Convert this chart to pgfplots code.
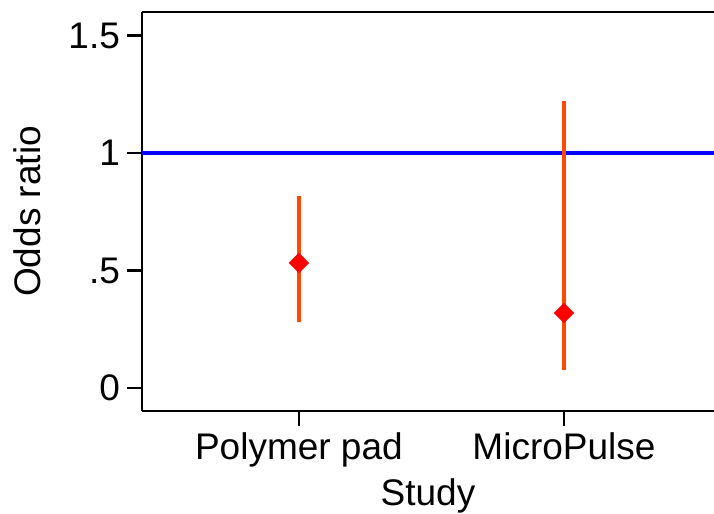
\documentclass[border=0pt]{standalone}
\usepackage{fontspec}
\setmainfont{Liberation Sans}
\usepackage{pgfplots}
\pgfplotsset{compat=1.18}
\definecolor{cibar}{RGB}{255,72,0}
\definecolor{ptred}{RGB}{255,0,0}
\definecolor{refblue}{RGB}{0,0,255}

\begin{document}
\begin{tikzpicture}
\useasboundingbox (-71pt,-51.5pt) rectangle (286pt,205.5pt);
\begin{axis}[
  at={(0,0)}, anchor=south west,
  scale only axis,
  width=286pt, height=199.5pt,
  xmin=0.408, xmax=2.566,
  ymin=-0.098, ymax=1.6,
  axis x line*=bottom, axis y line*=left,
  axis line style={line width=1.4pt, -},
  xtick={1,2}, xticklabels={Polymer pad, MicroPulse},
  ytick={0,0.5,1,1.5}, yticklabels={0,.5,1,1.5},
  tick align=outside,
  major tick length=7.5pt,
  tick style={line width=1.3pt, black},
  font=\fontsize{18.5}{22}\selectfont,
  /pgf/number format/assume math mode=true,
  xlabel={Study}, ylabel={Odds ratio},
  xlabel style={at={(axis description cs:0.5,0)}, anchor=center, yshift=-42.5pt},
  ylabel style={at={(axis description cs:-0.2,0.5)}, anchor=center},
  clip=false,
]
\addplot[refblue, line width=1.6pt] coordinates {(0.408,1) (2.566,1)};
\addplot[only marks, mark=square*, mark size=3.4pt, mark options={rotate=45, fill=ptred, draw=ptred}] coordinates {
  (1,0.532)
  (2,0.319)
};
\addplot[cibar, line width=1.7pt] coordinates {(1,0.281) (1,0.817)};
\addplot[cibar, line width=1.7pt] coordinates {(2,0.077) (2,1.221)};
\draw[line width=1.4pt] (rel axis cs:0,1) -- (rel axis cs:1,1);
\end{axis}
\end{tikzpicture}
\end{document}
